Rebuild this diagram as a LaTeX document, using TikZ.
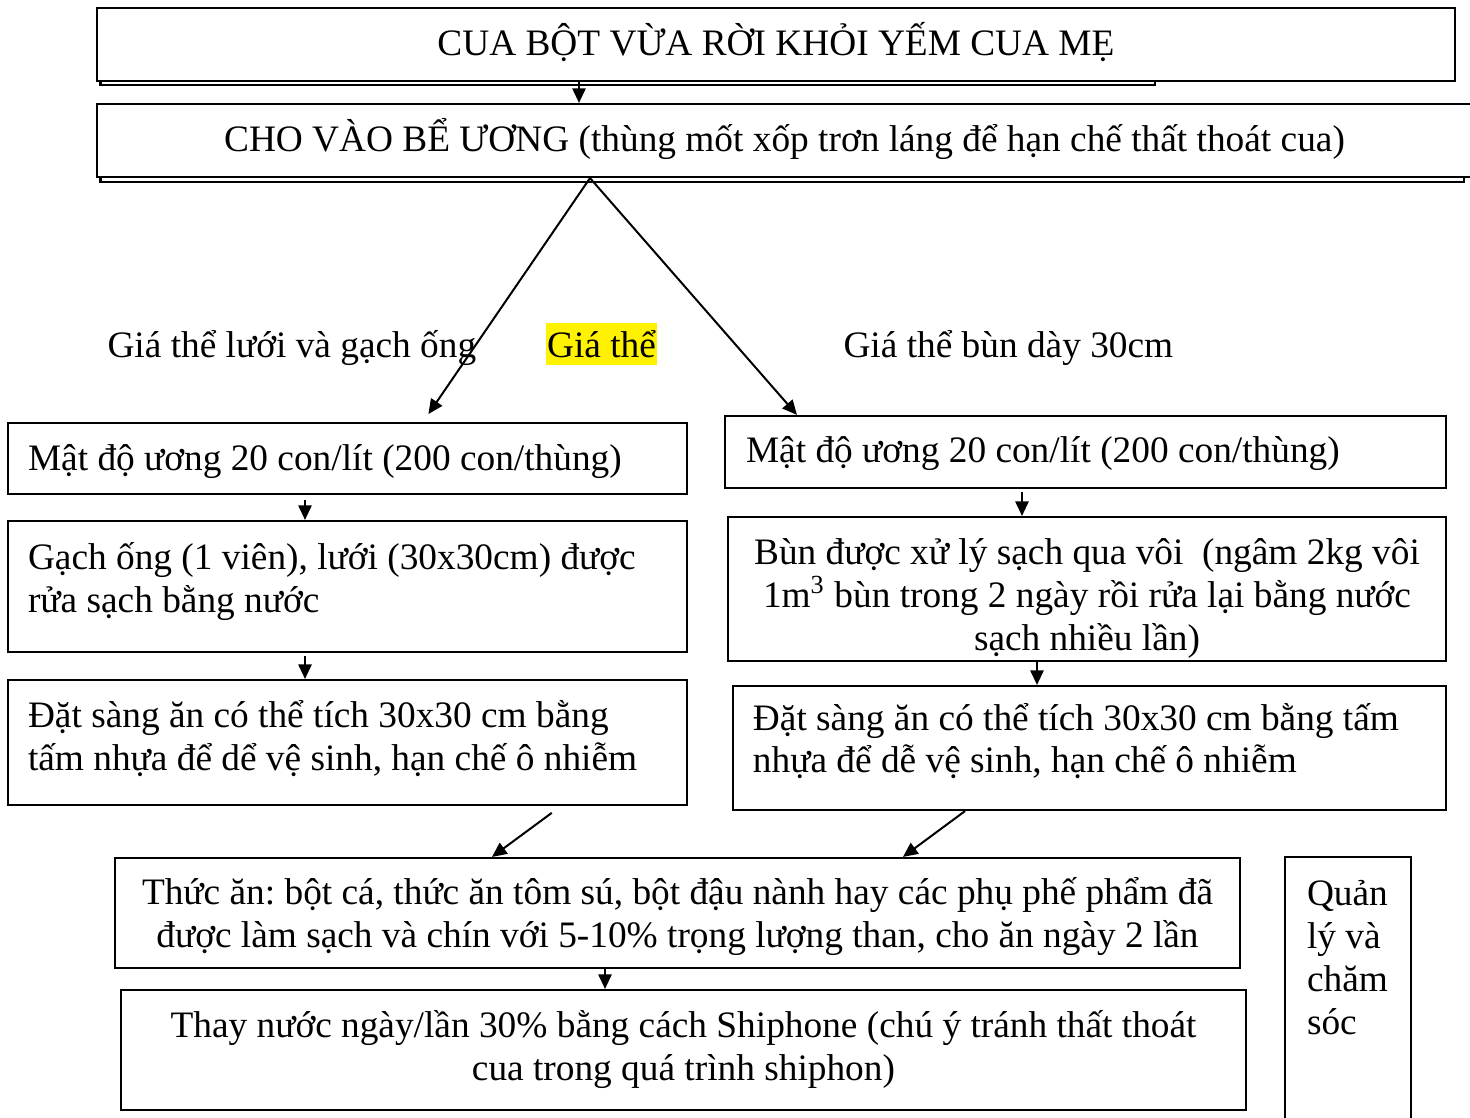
\documentclass[tikz,border=0pt]{standalone}
\usepackage{fontspec}
\setmainfont{Liberation Serif}
\usetikzlibrary{arrows.meta}
\frenchspacing

\begin{document}
\begin{tikzpicture}[x=0.375pt, y=-0.375pt,
        font=\fontsize{14}{16.1}\selectfont,
        hop/.style={draw, line width=0.8pt, fill=white, anchor=base, inner ysep=0pt},
        hoptrai/.style={hop, align=flush left, inner xsep=7.5pt},
        hopgiua/.style={hop, align=flush center, inner xsep=4pt},
        muiten/.style={-{Triangle[length=5.5pt,width=5pt]}, line width=0.75pt}]
        \useasboundingbox (0,0) rectangle (1470,1117);

        % Bóng của hai ô đầu
        \draw[line width=0.8pt] (100.5,30) rectangle (1155,85);
        \draw[line width=0.8pt] (100.5,130) rectangle (1464,182);

        % Hai ô đầu
        \node[hopgiua, text width=501.25pt, text height=17.63pt, text depth=9.75pt] (bot) at (776,55) {CUA BỘT VỪA RỜI KHỎI YẾM CUA MẸ};
        \node[hopgiua, text width=507.6pt, text height=17.63pt, text depth=9.75pt] (be) at (784.5,151) {CHO VÀO BỂ ƯƠNG (thùng mốt xốp trơn láng để hạn chế thất thoát cua)};

        % Nhãn giá thể
        \node[anchor=base west, inner sep=0pt] (nhantrai) at (107,357) {Giá thể lưới và gạch ống};
        \node[anchor=base, fill=yellow, inner xsep=0.4pt, inner ysep=0pt, text height=12.75pt, text depth=3pt] (nhangiua) at (601.5,357) {Giá thể};
        \node[anchor=base west, inner sep=0pt] (nhanphai) at (843,357) {Giá thể bùn dày 30cm};

        % Nhánh trái
        \node[hoptrai, text width=239.6pt, text height=17.81pt, text depth=8.81pt] (trai1) at (347.5,470.5) {Mật độ ương 20 con/lít (200 con/thùng)};
        \node[hoptrai, text width=239.6pt, text height=18.19pt, text depth=30.94pt] (trai2) at (347.5,569.5) {Gạch ống (1 viên), lưới (30x30cm) được\\rửa sạch bằng nước};
        \node[hoptrai, text width=239.6pt, text height=17.81pt, text depth=29.06pt] (trai3) at (347.5,727.5) {Đặt sàng ăn có thể tích 30x30 cm bằng\\tấm nhựa để dể vệ sinh, hạn chế ô nhiễm};

        % Nhánh phải
        \node[hoptrai, inner xsep=7.9pt, text width=254.6pt, text height=17.44pt, text depth=9.56pt] (phai1) at (1085.5,462.5) {Mật độ ương 20 con/lít (200 con/thùng)};
        \node[hopgiua, text width=261.25pt, text height=17.81pt, text depth=36.19pt] (phai2) at (1087,564.5) {Bùn được xử lý sạch qua vôi\ \ (ngâm 2kg vôi\\1m\textsuperscript{3} bùn trong 2 ngày rồi rửa lại bằng nước\\sạch nhiều lần)};
        \node[hoptrai, text width=252.4pt, text height=16.5pt, text depth=30pt] (phai3) at (1089.5,730) {Đặt sàng ăn có thể tích 30x30 cm bằng tấm\\nhựa để dễ vệ sinh, hạn chế ô nhiễm};

        % Phần chung
        \node[hopgiua, text width=413.9pt, text height=17.44pt, text depth=23.81pt] (thucan) at (677.5,904.5) {Thức ăn: bột cá, thức ăn tôm sú, bột đậu nành hay các phụ phế phẩm đã\\được làm sạch và chín với 5-10\% trọng lượng than, cho ăn ngày 2 lần};
        \node[hopgiua, text width=413.9pt, text height=17.81pt, text depth=27.19pt] (thaynuoc) at (683.5,1037.5) {Thay nước ngày/lần 30\% bằng cách Shiphone (chú ý tránh thất thoát\\cua trong quá trình shiphon)};
        \node[hoptrai, inner xsep=8.25pt, text width=30.75pt, text height=18.19pt, text depth=110pt] (quanly) at (1348,905.5) {Quản\\lý và\\chăm\\sóc};

        % Mũi tên
        \draw[muiten] (bot.south -| 579,0) -- (be.north -| 579,0);
        \draw[muiten] (be.south -| 590,0) -- (trai1.north -| 423,0) [shorten >=3.6pt];
        \draw[muiten] (be.south -| 590,0) -- (phai1.north -| 797,0);
        \draw[muiten, shorten <=2pt] (trai1.south -| 305,0) -- (trai2.north -| 305,0);
        \draw[muiten, shorten <=1pt] (trai2.south -| 305,0) -- (trai3.north -| 305,0);
        \draw[muiten, shorten <=1pt] (phai1.south -| 1022,0) -- (phai2.north -| 1022,0);
        \draw[muiten] (phai2.south -| 1037,0) -- (phai3.north -| 1037,0);
        \draw[muiten, shorten <=4.3pt] (trai3.south -| 561,0) -- (thucan.north -| 492,0);
        \draw[muiten] (phai3.south -| 965,0) -- (thucan.north -| 903,0);
        \draw[muiten] (thucan.south -| 605,0) -- (thaynuoc.north -| 605,0);
    \end{tikzpicture}
\end{document}
